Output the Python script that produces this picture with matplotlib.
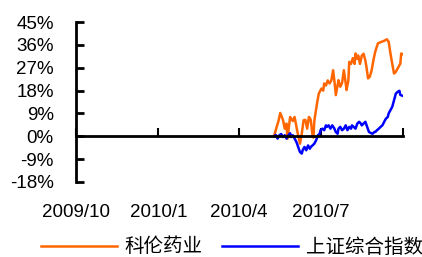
import matplotlib
matplotlib.use("Agg")
import matplotlib.pyplot as plt
import pandas as pd

series_names = ["科伦药业", "上证综合指数"]

kelun_dates = [
    "2010-05-10", "2010-05-13", "2010-05-15", "2010-05-17", "2010-05-20", "2010-05-22", "2010-05-24", "2010-05-25", "2010-05-28", "2010-05-31",
    "2010-06-02", "2010-06-05", "2010-06-08", "2010-06-10", "2010-06-12", "2010-06-14", "2010-06-16", "2010-06-18", "2010-06-20", "2010-06-22",
    "2010-06-23", "2010-06-24", "2010-06-27", "2010-06-29", "2010-06-30", "2010-07-02", "2010-07-04", "2010-07-05", "2010-07-07", "2010-07-09",
    "2010-07-11", "2010-07-13", "2010-07-15", "2010-07-17", "2010-07-18", "2010-07-20", "2010-07-21", "2010-07-23", "2010-07-25", "2010-07-27",
    "2010-07-29", "2010-07-30", "2010-08-01", "2010-08-02", "2010-08-04", "2010-08-06", "2010-08-08", "2010-08-09", "2010-08-11", "2010-08-12",
    "2010-08-14", "2010-08-16", "2010-08-18", "2010-08-20", "2010-08-21", "2010-08-23", "2010-08-25", "2010-08-27", "2010-08-29", "2010-08-31",
    "2010-09-03", "2010-09-07", "2010-09-10", "2010-09-13", "2010-09-15", "2010-09-17", "2010-09-19", "2010-09-21", "2010-09-23", "2010-09-25",
    "2010-09-26", "2010-09-28", "2010-09-29", "2010-09-30",
]
kelun_values = [
    0.0, 3.7, 6.0, 9.2, 6.5, 3.0, 5.0, -1.0, 7.6, 6.0,
    7.6, 2.0, -2.9, 1.0, 6.3, 6.5, 3.0, 7.6, 6.5, 0.4,
    -0.5, 6.0, 12.9, 16.8, 17.5, 18.8, 18.0, 20.8, 20.0, 22.0,
    20.8, 22.0, 26.0, 20.0, 16.2, 20.1, 22.1, 19.5, 21.0, 26.0,
    21.0, 18.2, 22.0, 29.3, 28.5, 30.8, 28.5, 32.6, 30.5, 31.8,
    28.5, 31.8, 32.5, 29.8, 27.8, 22.8, 23.5, 26.0, 30.0, 33.3,
    36.6, 37.2, 37.6, 38.2, 37.2, 32.6, 28.5, 24.7, 25.4, 26.7,
    27.3, 28.6, 32.6, 32.4,
]

sh_dates = [
    "2010-05-10", "2010-05-12", "2010-05-14", "2010-05-16", "2010-05-18", "2010-05-20", "2010-05-22", "2010-05-24", "2010-05-26", "2010-05-28",
    "2010-05-29", "2010-05-31", "2010-06-02", "2010-06-04", "2010-06-06", "2010-06-08", "2010-06-10", "2010-06-11", "2010-06-13", "2010-06-15",
    "2010-06-17", "2010-06-19", "2010-06-20", "2010-06-22", "2010-06-24", "2010-06-26", "2010-06-28", "2010-06-30", "2010-07-01", "2010-07-03",
    "2010-07-05", "2010-07-07", "2010-07-08", "2010-07-10", "2010-07-12", "2010-07-14", "2010-07-16", "2010-07-18", "2010-07-20", "2010-07-21",
    "2010-07-23", "2010-07-25", "2010-07-27", "2010-07-29", "2010-07-31", "2010-08-02", "2010-08-04", "2010-08-05", "2010-08-07", "2010-08-09",
    "2010-08-11", "2010-08-13", "2010-08-15", "2010-08-16", "2010-08-18", "2010-08-20", "2010-08-22", "2010-08-24", "2010-08-26", "2010-08-28",
    "2010-08-30", "2010-08-31", "2010-09-02", "2010-09-04", "2010-09-06", "2010-09-08", "2010-09-10", "2010-09-12", "2010-09-14", "2010-09-15",
    "2010-09-17", "2010-09-19", "2010-09-21", "2010-09-23", "2010-09-25", "2010-09-27", "2010-09-28", "2010-09-30",
]
sh_values = [
    0.0, 0.5, -0.9, 0.4, 0.9, -0.3, 0.4, -0.9, 0.4, 1.2,
    -0.3, 0.4, -0.9, -2.2, -4.2, -6.2, -6.8, -5.5, -4.2, -5.5,
    -3.6, -4.9, -4.2, -3.6, -2.9, -1.6, 0.4, 1.0, 2.4, 3.0,
    2.4, 4.3, 3.7, 4.3, 3.0, 4.3, 3.3, 1.7, 1.0, 3.0,
    3.7, 2.4, 3.0, 4.3, 2.4, 3.7, 3.0, 4.3, 3.7, 3.0,
    5.0, 5.7, 5.0, 4.3, 5.0, 5.7, 3.7, 1.7, 1.3, 1.0,
    1.7, 1.7, 2.4, 3.0, 3.7, 4.3, 5.7, 7.0, 7.6, 9.0,
    10.3, 11.6, 14.2, 16.8, 17.5, 17.9, 16.3, 16.0,
]

y_ticks = [-18, -9, 0, 9, 18, 27, 36, 45]
x_tick_dates = ["2009-10-01", "2010-01-01", "2010-04-01", "2010-07-01", "2010-10-01"]
x_tick_labels = ["2009/10", "2010/1", "2010/4", "2010/7", ""]

plt.rcParams['font.family'] = ['Liberation Sans', 'DejaVu Sans']

fig = plt.figure(figsize=(4.22, 2.57), dpi=100)
ax = fig.add_axes([76/422, 1-182/257, (403-76)/422, 160/257])

for s in ["top", "right"]:
    ax.spines[s].set_visible(False)
ax.spines["bottom"].set_position(("data", 0))
ax.spines["bottom"].set_linewidth(2)
ax.spines["left"].set_linewidth(2)

ax.plot(pd.to_datetime(kelun_dates), kelun_values, color="#FF6600", lw=1.8, label=series_names[0])
ax.plot(pd.to_datetime(sh_dates), sh_values, color="#0000FF", lw=1.8, label=series_names[1])

ax.set_xlim(pd.Timestamp("2009-10-01"), pd.Timestamp("2010-10-01"))
ax.set_ylim(-18, 45)
ax.set_yticks(y_ticks)
ax.set_yticklabels([f"{v}%" for v in y_ticks])
ax.set_xticks(pd.to_datetime(x_tick_dates))
ax.set_xticklabels(x_tick_labels)

ax.tick_params(axis="y", direction="in", length=6, width=2, pad=16, labelsize=13.5)
ax.tick_params(axis="x", direction="in", length=6, width=1.5, pad=49, labelsize=13.5)

leg = fig.legend(loc="center", bbox_to_anchor=(232/422, 1-247/257), ncol=2, frameon=False,
                 handlelength=3.9, handletextpad=0.4, columnspacing=1.0,
                 prop={"family": ["Noto Sans CJK SC", "DejaVu Sans"], "size": 14})

fig.savefig("out.png", dpi=100)
